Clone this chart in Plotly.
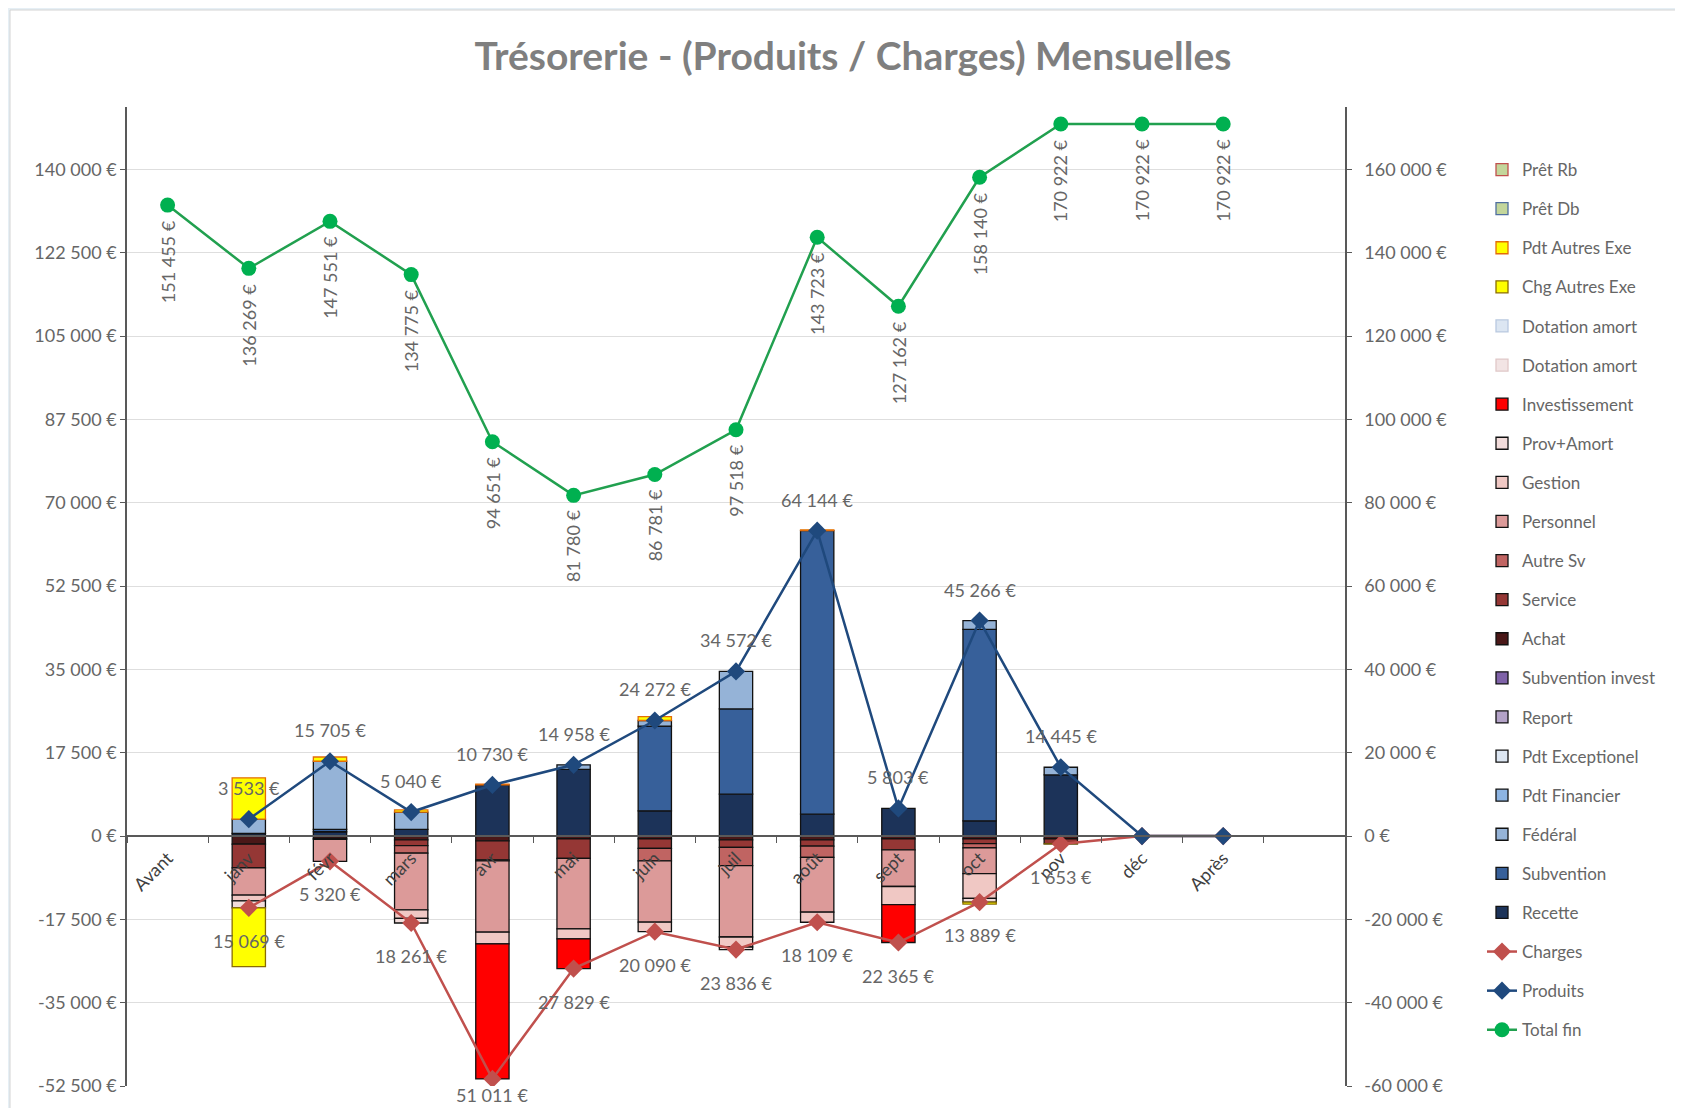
import plotly.graph_objects as go

# ---------------- DATA ----------------
categories = ["Avant", "janv", "févr", "mars", "avr", "mai", "juin", "juil",
              "août", "sept", "oct", "nov", "déc", "Après"]

# Produits (positive stack, bottom -> top)
recette           = [0, 533, 900, 1400, 10730, 14000, 5300, 8800, 4600, 5803, 3200, 12845, 0, 0]
subvention        = [0, 0, 500, 0, 0, 0, 17800, 17900, 59544, 0, 40200, 0, 0, 0]
federal           = [0, 3000, 14305, 3640, 0, 958, 1172, 7872, 0, 0, 1866, 1600, 0, 0]
pdt_financier     = [0] * 14
pdt_exceptionel   = [0] * 14
report            = [0] * 14
subvention_invest = [0] * 14

# Charges (negative stack, top -> bottom)
achat          = [0, -1700, -500, -800, -1000, -600, -600, -800, -800, -600, -600, -600, 0, 0]
service        = [0, -5000, -200, -1200, -4000, -4100, -2000, -1600, -1300, -2300, -1000, -1053, 0, 0]
autre_sv       = [0, 0, 0, -1600, -200, 0, -2600, -3800, -2400, 0, -900, 0, 0, 0]
personnel      = [0, -5700, -4620, -11900, -15000, -14800, -12900, -15000, -11500, -7700, -5400, 0, 0, 0]
gestion        = [0, -1200, 0, -1800, -2460, -2100, -1990, -2100, -2109, -3800, -5200, 0, 0, 0]
prov_amort     = [0, -1469, 0, -961, 0, 0, 0, -536, 0, 0, -789, 0, 0, 0]
investissement = [0, 0, 0, 0, -28351, -6229, 0, 0, 0, -7965, 0, 0, 0, 0]
dotation_1     = [0] * 14
dotation_2     = [0] * 14
chg_autres_exe = [0, -12350, 0, 0, 0, 0, 0, 0, 0, 0, -399, -10, 0, 0]
pdt_autres_exe = [0, 8700, 897, 445, 157, 0, 819, 0, 170, 0, 0, 0, 0, 0]
pret_db        = [0] * 14
pret_rb        = [0] * 14

# Lines
charges   = [None, -15069, -5320, -18261, -51011, -27829, -20090, -23836, -18109, -22365, -13889, -1653, 0, 0]
produits  = [None, 3533, 15705, 5040, 10730, 14958, 24272, 34572, 64144, 5803, 45266, 14445, 0, 0]
total_fin = [151455, 136269, 147551, 134775, 94651, 81780, 86781, 97518, 143723, 127162, 158140,
             170922, 170922, 170922]

# Axis ticks
y1_ticks = [-52500, -35000, -17500, 0, 17500, 35000, 52500, 70000, 87500, 105000, 122500, 140000]
y2_ticks = [-60000, -40000, -20000, 0, 20000, 40000, 60000, 80000, 100000, 120000, 140000, 160000]

# ---------------- STYLE ----------------
Y1_MIN, Y1_MAX = -52500, 153125
Y2_MIN, Y2_MAX = -60000, 175000
OFF = 8                      # default page margin of the html body
W, H = 1683 - OFF, 1108 - OFF
ML, MT, MB = 127 - OFF, 107 - OFF, 22
PW = 1218
MR = W - ML - PW
PLOT_H = H - MT - MB
FONT = "Lato"
GREY = "#666666"


def fmt(v):
    return f"{abs(v):,.0f}".replace(",", "\u00a0") + "\u00a0€"


# (name, values, fill, border)
bar_series = [
    ("Recette", recette, "#1c3359", "#111111"),
    ("Subvention", subvention, "#37609a", "#111111"),
    ("Fédéral", federal, "#95b3d7", "#111111"),
    ("Pdt Financier", pdt_financier, "#8db4e2", "#111111"),
    ("Pdt Exceptionel", pdt_exceptionel, "#dce6f2", "#111111"),
    ("Report", report, "#b3a2c7", "#111111"),
    ("Subvention invest", subvention_invest, "#7f62a8", "#111111"),
    ("Achat", achat, "#4a1818", "#111111"),
    ("Service", service, "#953735", "#111111"),
    ("Autre Sv", autre_sv, "#c06462", "#111111"),
    ("Personnel", personnel, "#dc9a99", "#111111"),
    ("Gestion", gestion, "#f0c8c4", "#111111"),
    ("Prov+Amort", prov_amort, "#f2dcdb", "#111111"),
    ("Investissement", investissement, "#ff0000", "#111111"),
    ("Dotation amort", dotation_1, "#f2e4e4", "#e0c8c8"),
    ("Dotation amort", dotation_2, "#dce6f2", "#b9c9e0"),
    ("Chg Autres Exe", chg_autres_exe, "#ffff00", "#8a6d00"),
    ("Pdt Autres Exe", pdt_autres_exe, "#ffff00", "#e36c09"),
    ("Prêt Db", pret_db, "#c3d69b", "#4f6f9f"),
    ("Prêt Rb", pret_rb, "#c3d69b", "#c0504d"),
]

fig = go.Figure()
n_bars = len(bar_series)
for i, (name, vals, fill, border) in enumerate(bar_series):
    fig.add_trace(go.Bar(
        x=categories, y=[v if v else None for v in vals], name=name,
        marker=dict(color=fill, line=dict(color=border, width=1.3)),
        legendgroup=f"g{i}", legendrank=(n_bars - i) * 10,
    ))

fig.add_trace(go.Scatter(
    x=categories, y=charges, name="Charges", mode="lines+markers",
    line=dict(color="#c0504d", width=2.5),
    marker=dict(symbol="diamond", size=14, color="#c0504d"),
    legendgroup="charges", legendrank=(n_bars + 1) * 10,
))
fig.add_trace(go.Scatter(
    x=categories, y=produits, name="Produits", mode="lines+markers",
    line=dict(color="#1f497d", width=2.5),
    marker=dict(symbol="diamond", size=14, color="#1f497d"),
    legendgroup="produits", legendrank=(n_bars + 2) * 10,
))
fig.add_trace(go.Scatter(
    x=categories, y=total_fin, name="Total fin", mode="lines+markers", yaxis="y2",
    line=dict(color="#21a04f", width=2.5),
    marker=dict(symbol="circle", size=15, color="#00b050"),
    legendgroup="total", legendrank=(n_bars + 3) * 10,
))

annotations = []
lab_font = dict(family=FONT, size=18, color=GREY)
for c, v in zip(categories, total_fin):
    annotations.append(dict(x=c, y=v, xref="x", yref="y2", text=fmt(v), textangle=-90,
                            showarrow=False, xanchor="center", yanchor="top", yshift=-13,
                            font=lab_font))
for c, v in zip(categories, produits):
    if v:
        annotations.append(dict(x=c, y=v, xref="x", yref="y", text=fmt(v), showarrow=False,
                                xanchor="center", yanchor="bottom", yshift=18, font=lab_font))
for c, v in zip(categories, charges):
    if v:
        dist = (v - Y1_MIN) / (Y1_MAX - Y1_MIN) * PLOT_H
        shift = min(20, dist + MB - 26)
        annotations.append(dict(x=c, y=v, xref="x", yref="y", text=fmt(v), showarrow=False,
                                xanchor="center", yanchor="top", yshift=-shift, font=lab_font))

zero_pos = (0 - Y1_MIN) / (Y1_MAX - Y1_MIN)


def tick_text(t):
    return ("-" if t < 0 else "") + fmt(t)


fig.update_layout(
    width=W, height=H,
    margin=dict(l=ML, r=MR, t=MT, b=MB),
    paper_bgcolor="#e6eff5", plot_bgcolor="rgba(0,0,0,0)",
    barmode="relative", bargap=0.59,
    font=dict(family=FONT, color=GREY),
    title=dict(text="Trésorerie - (Produits / Charges) Mensuelles",
               x=(853 - OFF) / W, xref="container", xanchor="center",
               y=1 - (56 - OFF) / H, yref="container", yanchor="middle",
               font=dict(family=FONT, size=39, color="#7f7f7f", weight="bold")),
    xaxis=dict(type="category", categoryorder="array", categoryarray=categories,
               range=[-0.5, 14.5], anchor="free", position=zero_pos,
               showline=True, linecolor="#595959", linewidth=1.5,
               ticks="outside", tickson="boundaries", ticklen=6, tickcolor="#595959",
               tickangle=-45, ticklabelstandoff=4,
               tickfont=dict(family=FONT, size=18, color="#404040"),
               showgrid=False, zeroline=False),
    yaxis=dict(range=[Y1_MIN, Y1_MAX], tickvals=y1_ticks, ticktext=[tick_text(t) for t in y1_ticks],
               showline=True, linecolor="#595959", linewidth=1.5,
               ticks="outside", ticklen=5, tickcolor="#595959",
               showgrid=True, gridcolor="#dedede", gridwidth=1.2, zeroline=False,
               tickfont=dict(family=FONT, size=18, color=GREY)),
    yaxis2=dict(range=[Y2_MIN, Y2_MAX], tickvals=y2_ticks, ticktext=[tick_text(t) for t in y2_ticks],
                overlaying="y", side="right", showline=True, linecolor="#595959", linewidth=1.5,
                ticks="outside", ticklen=5, tickcolor="#595959", showgrid=False, zeroline=False,
                ticklabelstandoff=9,
                tickfont=dict(family=FONT, size=18, color=GREY)),
    legend=dict(x=(1482 - OFF - ML) / PW, y=(H - MB - (152 - OFF)) / PLOT_H,
                xanchor="left", yanchor="top",
                traceorder="grouped", tracegroupgap=14, bgcolor="rgba(0,0,0,0)",
                font=dict(family=FONT, size=17, color=GREY)),
    annotations=annotations,
    shapes=[dict(type="rect", xref="paper", yref="paper", layer="below",
                 x0=(10 - OFF - ML) / PW, x1=(W + 20 - ML) / PW,
                 y0=-0.2, y1=(H - MB - (10 - OFF)) / PLOT_H,
                 fillcolor="white", line=dict(color="#d4d4d4", width=1))],
    showlegend=True,
)

fig.write_html("out.html")
